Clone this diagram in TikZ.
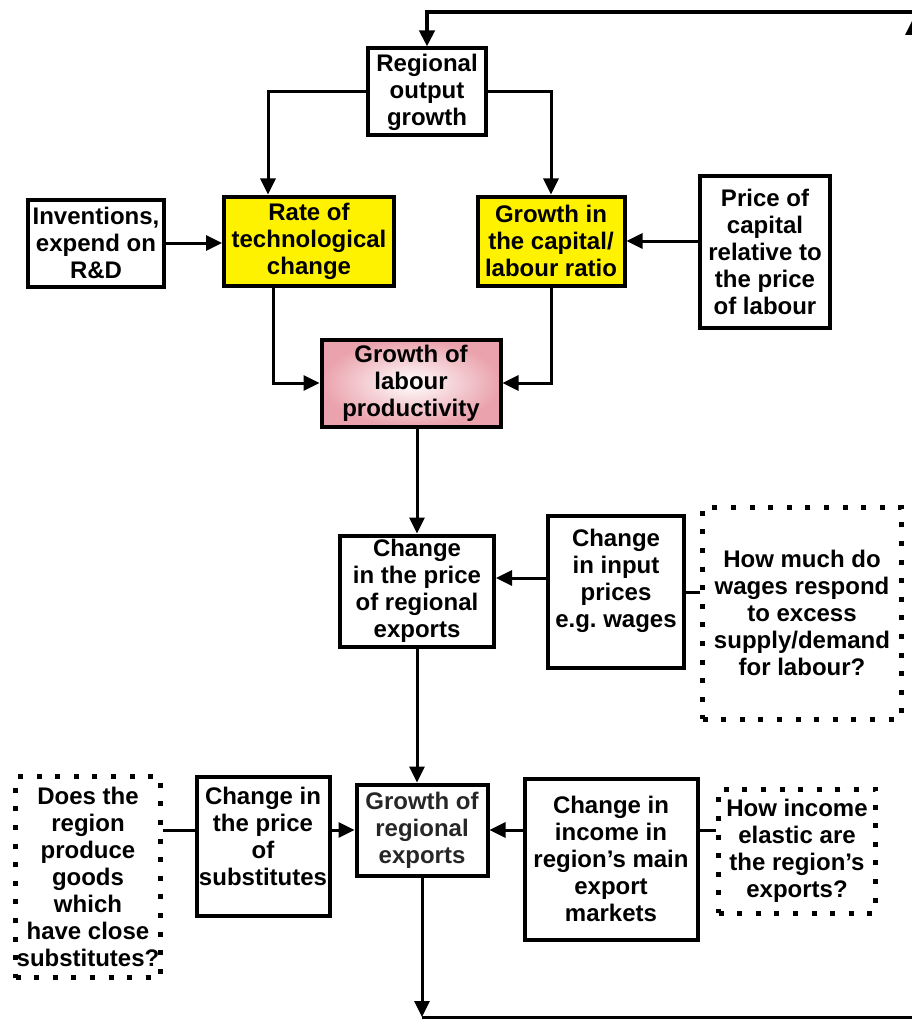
\documentclass[tikz,border=0pt]{standalone}
\usepackage{fontspec}
\setmainfont{Liberation Sans}
\usepackage{xcolor}
\usetikzlibrary{positioning, arrows.meta}
\definecolor{prodpink}{RGB}{234,162,172}

\begin{document}
\begin{tikzpicture}[x=1pt, y=-1pt,
  box/.style={draw, line width=4pt, inner sep=0pt, align=center,
    font=\fontsize{24}{27}\selectfont\bfseries},
  dotbox/.style={box, line width=5pt, dash pattern=on 5pt off 13.6pt},
  arr/.style={-{Triangle[length=16pt, width=15pt]}, line width=3pt},
  link/.style={line width=3pt}]
\useasboundingbox (0,0) rectangle (912,1019);

\node[box, minimum width=118pt, minimum height=87pt] (regional) at (427,92) {Regional\\output\\growth};
\node[box, minimum width=136pt, minimum height=87pt] (inventions) at (96,243) {Inventions,\\expend on\\R\&D};
\node[box, fill=yellow, minimum width=170pt, minimum height=89pt] (rate) at (309,241) {Rate of\\technological\\change};
\node[box, fill=yellow, minimum width=147pt, minimum height=89pt] (capital) at (551,241) {Growth in\\the capital/\\labour ratio};
\node[box, minimum width=130pt, minimum height=152pt] (price) at (765,252) {Price of\\capital\\relative to\\the price\\of labour};
\node[box, shading=radial, inner color=white, outer color=prodpink, minimum width=179pt, minimum height=87pt] (prod) at (411,383) {Growth of\\labour\\productivity};

\node[box, minimum width=154pt, minimum height=111pt] (chprice) at (417,591) {Change\\in the price\\of regional\\exports};
\node[box, minimum width=136pt, minimum height=152pt] (input) at (616,592) {Change\\in input\\prices\\e.g.\ wages\\[0pt]\mbox{}};
\node[dotbox, minimum width=199pt, minimum height=212pt] (wages) at (802,613) {How much do\\wages respond\\to excess\\supply/demand\\for labour?};

\node[box, text=black!85, minimum width=131pt, minimum height=91pt] (exports) at (422,830) {Growth of\\regional\\exports};
\node[box, minimum width=133pt, minimum height=139pt] (subst) at (263,846) {Change in\\the price\\of\\substitutes\\[-7pt]\mbox{}};
\node[dotbox, minimum width=145pt, minimum height=201pt] (does) at (88,877) {Does the\\region\\produce\\goods\\which\\have close\\substitutes?};
\node[box, minimum width=173pt, minimum height=161pt] (income) at (611,859) {Change in\\income in\\region’s main\\export\\markets};
\node[dotbox, minimum width=157pt, minimum height=124pt] (elastic) at (797,851) {How income\\elastic are\\the region’s\\exports?};

% feedback loop round the edge
\coordinate (loopbl) at (422,1017);
\coordinate (loopbr) at (913,1017);
\coordinate (looptr) at (913,19);
\coordinate (looptop) at (913,12);
\coordinate (looptl) at (427,12);

\draw[arr] (regional.west) -| ([xshift=-41pt]rate.north);
\draw[arr] (regional.east) -| (capital.north);
\draw[arr] (inventions.east) -- (inventions.east -| rate.west);
\draw[arr] (price.west |- capital) -- (capital.east);
\draw[arr] ([xshift=-36pt]rate.south) |- (prod.west);
\draw[arr] (capital.south) |- (prod.east);
\draw[arr] (prod.south -| chprice.north) -- (chprice.north);

\draw[arr] ([yshift=14pt]input.west) coordinate (ipw) -- (ipw -| chprice.east);
\draw[link] (wages.west |- input.east) -- (input.east);
\draw[arr] (chprice.south) -- (chprice.south |- exports.north);

\draw[arr] (subst.east |- exports) -- (exports.west);
\draw[link] (does.east |- exports) -- (subst.west |- exports);
\draw[arr] (income.west |- exports) -- (exports.east);
\draw[link] (elastic.west |- exports) -- (income.east |- exports);

\draw[arr] (exports.south) -- (loopbl);
\draw[arr] (loopbl) -- (loopbr) -- (looptr);
\draw[arr, line width=4pt] (looptop) -- (looptl) -- (regional.north);
\end{tikzpicture}
\end{document}
